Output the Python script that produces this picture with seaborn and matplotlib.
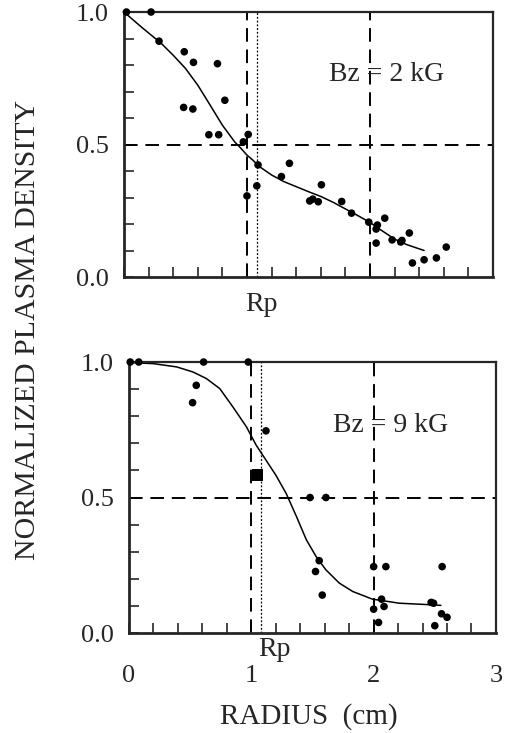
import numpy as np
import pandas as pd
import matplotlib
matplotlib.use("Agg")
import matplotlib.pyplot as plt
import matplotlib.transforms as mtransforms
import seaborn as sns

# --- data ---
# top panel, Bz = 2 kG
top_r = [0.02, 0.22, 0.285, 0.49, 0.565, 0.76, 0.485, 0.56, 0.82, 0.69, 0.77,
         0.97, 1.01, 1.0, 1.08, 1.09, 1.28, 1.345, 1.51, 1.535, 1.58, 1.605,
         1.77, 1.85, 1.99, 2.05, 2.06, 2.12, 2.05, 2.18, 2.25, 2.26, 2.32,
         2.345, 2.44, 2.54, 2.62]
top_n = [1.0, 1.0, 0.89, 0.85, 0.81, 0.805, 0.64, 0.634, 0.667, 0.537, 0.537,
         0.51, 0.538, 0.306, 0.344, 0.423, 0.379, 0.429, 0.287, 0.294, 0.284,
         0.348, 0.285, 0.241, 0.207, 0.181, 0.196, 0.222, 0.128, 0.14, 0.132,
         0.138, 0.166, 0.053, 0.065, 0.072, 0.113]
top_fit_r = [0.0, 0.15, 0.3, 0.4, 0.5, 0.6, 0.7, 0.8, 0.9, 0.95, 1.0, 1.05,
             1.1, 1.2, 1.3, 1.4, 1.5, 1.6, 1.7, 1.8, 1.9, 2.0, 2.1, 2.2, 2.3,
             2.44]
top_fit_n = [1.0, 0.94, 0.883, 0.837, 0.787, 0.724, 0.649, 0.573, 0.51, 0.486,
             0.46, 0.44, 0.417, 0.385, 0.36, 0.341, 0.322, 0.304, 0.282, 0.257,
             0.232, 0.206, 0.174, 0.143, 0.122, 0.1]

# bottom panel, Bz = 9 kG
bot_r = [0.01, 0.08, 0.61, 0.975, 0.55, 0.52, 1.12, 1.48, 1.61, 1.555, 1.525,
         1.58, 2.0, 2.1, 2.56, 2.065, 2.085, 2.0, 2.04, 2.47, 2.49, 2.5,
         2.555, 2.6]
bot_n = [1.0, 1.0, 1.0, 1.0, 0.914, 0.85, 0.746, 0.5, 0.5, 0.267, 0.227,
         0.14, 0.245, 0.245, 0.245, 0.125, 0.098, 0.088, 0.039, 0.113, 0.11,
         0.027, 0.071, 0.058]
bot_sq_r = [1.05]
bot_sq_n = [0.583]
bot_fit_r = [0.0, 0.2, 0.39, 0.525, 0.633, 0.742, 0.85, 0.96, 1.04, 1.12,
             1.2, 1.285, 1.37, 1.45, 1.53, 1.61, 1.72, 1.83, 1.99, 2.21, 2.48,
             2.55]
bot_fit_n = [0.998, 0.994, 0.982, 0.963, 0.939, 0.902, 0.834, 0.761, 0.693,
             0.638, 0.583, 0.515, 0.429, 0.344, 0.282, 0.233, 0.184, 0.153,
             0.125, 0.11, 0.104, 0.102]

rp = 1.08
field_labels = ["Bz = 2 kG", "Bz = 9 kG"]

sns.set_style("ticks")
plt.rcParams["font.family"] = ["Liberation Serif", "DejaVu Serif"]

fig = plt.figure(figsize=(5.05, 7.33), dpi=100)
ax_top = fig.add_axes([0.2455, 0.6221, 0.7307, 0.3615])
ax_bot = fig.add_axes([0.2554, 0.1364, 0.7267, 0.3697])

panels = [
    (ax_top, top_r, top_n, top_fit_r, top_fit_n, field_labels[0]),
    (ax_bot, bot_r, bot_n, bot_fit_r, bot_fit_n, field_labels[1]),
]

for ax, r, n, fr, fn, lab in panels:
    ax.axhline(0.5, color="black", lw=1.4, ls=(0, (7, 4)))
    ax.axvline(1.0, color="black", lw=1.4, ls=(0, (7, 4)))
    ax.axvline(2.0, color="black", lw=1.4, ls=(0, (7, 4)))
    ax.axvline(rp, color="black", lw=0.9, ls=(0, (1.5, 1.5)))
    sns.lineplot(x=fr, y=fn, ax=ax, color="black", lw=1.1, sort=False,
                 estimator=None)
    sns.scatterplot(x=r, y=n, ax=ax, color="black", s=30, edgecolor="none",
                    zorder=5, clip_on=False)
    ax.set_xlim(0, 3)
    ax.set_ylim(0, 1.0)
    ax.set_xticks([0, 1, 2, 3])
    ax.set_xticks(np.arange(0, 3.01, 0.2), minor=True)
    ax.set_yticks([0, 0.5, 1.0])
    ax.set_yticklabels(["0.0", "0.5", "1.0"])
    ax.set_yticks(np.arange(0, 1.01, 0.1), minor=True)
    ax.tick_params(axis="both", which="both", direction="in", length=7,
                   width=1.2, top=False, right=False)
    ax.tick_params(axis="y", which="major", labelsize=19, pad=11)
    ax.tick_params(axis="x", which="major", labelsize=19, pad=23)
    for s in ax.spines.values():
        s.set_linewidth(1.6)
        s.set_visible(True)
    ax.spines["left"].set_linewidth(2)
    ax.spines["bottom"].set_linewidth(2)
    ax.text(0.555, 0.765, lab, transform=ax.transAxes, fontsize=20,
            ha="left", va="center")

sns.scatterplot(x=bot_sq_r, y=bot_sq_n, ax=ax_bot, color="black", marker="s",
                s=70, edgecolor="none", zorder=6)

ax_top.set_xticklabels([])

trans_top = mtransforms.blended_transform_factory(ax_top.transData, ax_top.transAxes)
ax_top.text(1.12, -0.105, "Rp", transform=trans_top, fontsize=20,
            ha="center", va="center")
trans_bot = mtransforms.blended_transform_factory(ax_bot.transData, ax_bot.transAxes)
ax_bot.text(1.19, -0.06, "Rp", transform=trans_bot, fontsize=20,
            ha="center", va="center")

fig.text(0.055, 0.55, "NORMALIZED PLASMA DENSITY", rotation=90,
         fontsize=21.5, ha="center", va="center")
fig.text(0.612, 0.022, "RADIUS  (cm)", fontsize=21, ha="center", va="center")

fig.savefig("out.png", dpi=100)
